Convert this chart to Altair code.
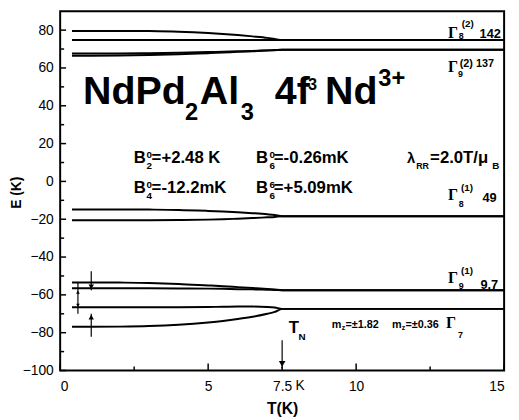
import altair as alt
import pandas as pd

# ---------------- data ----------------
T_pts = [0.4, 1, 2, 3, 4, 5, 5.5, 6, 6.5, 7, 7.25, 7.5, 15]

g8b_up = [79.6, 79.6, 79.6, 79.5, 79.2, 78.5, 78.0, 77.4, 76.7, 75.9, 75.3, 74.8, 74.8]
g8b_mid = [74.8, 74.8, 74.8, 74.8, 74.8, 74.8, 74.8, 74.8, 74.8, 74.8, 74.8, 74.8, 74.8]
g9b_a = [67.6, 67.6, 67.7, 67.8, 68.0, 68.4, 68.6, 68.8, 69.0, 69.3, 69.45, 69.6, 69.6]
g9b_b = [66.5, 66.5, 66.6, 66.8, 67.2, 67.8, 68.1, 68.5, 68.8, 69.2, 69.4, 69.6, 69.6]
g8a_up = [-14.8, -14.8, -14.8, -14.9, -15.1, -15.6, -15.9, -16.3, -16.8, -17.4, -17.8, -18.4, -18.4]
g8a_lo = [-20.5, -20.5, -20.5, -20.5, -20.4, -20.2, -20.0, -19.7, -19.4, -19.0, -18.8, -18.4, -18.4]
g9a_up = [-53.4, -53.4, -53.5, -53.7, -54.2, -55.0, -55.4, -55.9, -56.4, -56.9, -57.2, -57.5, -57.5]
g9a_lo = [-56.5, -56.5, -56.5, -56.5, -56.6, -56.7, -56.8, -57.0, -57.1, -57.3, -57.4, -57.5, -57.5]
g7_up = [-66.6, -66.6, -66.6, -66.5, -66.5, -66.4, -66.3, -66.2, -66.2, -66.4, -66.7, -67.4, -67.4]
g7_lo = [-76.9, -76.9, -76.8, -76.5, -75.8, -74.6, -73.8, -72.8, -71.6, -70.0, -69.0, -67.4, -67.4]

series = {
    "g8b_up": g8b_up, "g8b_mid": g8b_mid, "g9b_a": g9b_a, "g9b_b": g9b_b,
    "g8a_up": g8a_up, "g8a_lo": g8a_lo, "g9a_up": g9a_up, "g9a_lo": g9a_lo,
    "g7_up": g7_up, "g7_lo": g7_lo,
}

x_tick_labels = [0, 5, 7.5, 10, 15]
x_major = [0, 5, 10, 15]
x_minor = [2.5, 7.5, 12.5]
y_major = [-100, -80, -60, -40, -20, 0, 20, 40, 60, 80]
y_minor = [-90, -70, -50, -30, -10, 10, 30, 50, 70]

# arrows: vertical lines (T, E_start, E_end) and heads (T, E, shape)
arrow_T = [1.05, 1.05, 0.6, 7.5]
arrow_E1 = [-47.5, -70.0, -53.5, -84.0]
arrow_E2 = [-57.5, -82.2, -70.0, -99.0]
head_T = [1.05, 1.05, 0.6, 0.6, 7.5]
head_E = [-55.8, -71.8, -58.5, -65.5, -96.5]
head_shape = ["triangle-down", "triangle-up", "triangle-up", "triangle-down", "triangle-down"]
head_size = [30, 30, 14, 14, 45]

# annotations: (text, T, E, size)
sans_bold = [
    ("NdPd", 0.77, 41.2, 40), ("2", 4.22, 32.7, 24), ("Al", 4.72, 41.2, 40),
    ("3", 6.1, 32.7, 24), ("4f", 7.25, 41.2, 40), ("3", 8.38, 48.4, 16),
    ("Nd", 8.95, 41.2, 40), ("3+", 10.75, 50.4, 24),
    # crystal-field parameters
    ("B", 2.49, 10.0, 17), ("0", 2.92, 12.6, 10), ("2", 2.92, 6.6, 10), ("=+2.48 K", 3.09, 10.0, 17),
    ("B", 2.49, -6.15, 17), ("0", 2.92, -3.6, 10), ("4", 2.92, -9.5, 10), ("=-12.2mK", 3.09, -6.15, 17),
    ("B", 6.62, 10.0, 17), ("0", 7.07, 12.6, 10), ("6", 7.07, 6.6, 10), ("=-0.26mK", 7.22, 10.0, 17),
    ("B", 6.62, -6.15, 17), ("6", 7.07, -3.6, 10), ("6", 7.07, -9.5, 10), ("=+5.09mK", 7.22, -6.15, 17),
    ("λ", 11.72, 10.0, 15), ("RR", 12.03, 6.6, 9), ("=2.0T/μ", 12.5, 10.0, 17), ("B", 14.6, 6.6, 10),
    # level labels (numbers and superscripts)
    ("(2)", 13.57, 81.7, 10), ("142", 14.17, 75.9, 13), ("8", 13.47, 75.3, 9),
    ("(2) 137", 13.5, 60.6, 11), ("9", 13.44, 55.1, 9),
    ("(1)", 13.54, -5.3, 10), ("49", 14.27, -11.0, 13), ("8", 13.47, -13.6, 9),
    ("(1)", 13.54, -49.0, 10), ("9.7", 14.2, -56.8, 13), ("9", 13.47, -56.8, 9),
    ("7", 13.44, -82.8, 9),
    # magnetic moments and T_N
    ("m", 9.18, -77.6, 11), ("z", 9.51, -78.7, 7), ("=±1.82", 9.64, -77.6, 11),
    ("m", 11.21, -77.6, 11), ("z", 11.54, -78.7, 7), ("=±0.36", 11.67, -77.6, 11),
    ("T", 7.72, -80.2, 17), ("N", 8.05, -83.9, 10),
]
serif_bold = [
    ("Γ", 13.1, 75.9, 16), ("Γ", 13.1, 58.0, 16), ("Γ", 13.1, -9.95, 16),
    ("Γ", 13.1, -53.7, 16), ("Γ", 13.04, -77.6, 16),
]
sans_plain = [("K", 7.95, -110.4, 14)]
y_title = [("E (K)", -1.45, -6.0, 14)]

# ---------------- build tables ----------------
rows = []
for name, vals in series.items():
    for t, e in zip(T_pts, vals):
        rows.append({"T": t, "E": e, "level": name})
lines_df = pd.DataFrame(rows)

xs = alt.Scale(domain=[0, 15], nice=False, zero=False)
ys = alt.Scale(domain=[-100, 90], nice=False, zero=False)

H = 365

lines = alt.Chart(lines_df).mark_line(
    color="black", strokeWidth=2, interpolate="monotone"
).encode(
    x=alt.X("T:Q", scale=xs, axis=alt.Axis(
        values=x_tick_labels, labelExpr="datum.value == 7.5 ? '7.5' : datum.label",
        title="T(K)", titleFontSize=16, titleFont="Liberation Sans", titleFontWeight="bold",
        titleColor="black", titlePadding=8, labelFontSize=14, labelFont="Liberation Sans",
        labelColor="black", labelPadding=9, tickSize=0, domain=False, grid=False)),
    y=alt.Y("E:Q", scale=ys, axis=alt.Axis(
        values=y_major, title=None, labelFontSize=14,
        labelFont="Liberation Sans", labelColor="black", labelPadding=7, tickSize=0,
        domain=False, grid=False)),
    detail="level:N",
)

ytick_major = alt.Chart(pd.DataFrame({"E": y_major})).mark_rule(color="black", strokeWidth=1.5).encode(
    y=alt.Y("E:Q", scale=ys), x=alt.value(0), x2=alt.value(6))
ytick_minor = alt.Chart(pd.DataFrame({"E": y_minor})).mark_rule(color="black", strokeWidth=1.5).encode(
    y=alt.Y("E:Q", scale=ys), x=alt.value(0), x2=alt.value(4))
xtick_major = alt.Chart(pd.DataFrame({"T": x_major})).mark_rule(color="black", strokeWidth=1.5).encode(
    x=alt.X("T:Q", scale=xs), y=alt.value(H), y2=alt.value(H - 7))
xtick_minor = alt.Chart(pd.DataFrame({"T": x_minor})).mark_rule(color="black", strokeWidth=1.5).encode(
    x=alt.X("T:Q", scale=xs), y=alt.value(H), y2=alt.value(H - 4))

arrows = alt.Chart(pd.DataFrame({"T": arrow_T, "E1": arrow_E1, "E2": arrow_E2})).mark_rule(
    color="black", strokeWidth=1.2).encode(
    x=alt.X("T:Q", scale=xs), y=alt.Y("E1:Q", scale=ys), y2="E2:Q")
heads = alt.Chart(pd.DataFrame({"T": head_T, "E": head_E, "shape": head_shape, "sz": head_size})).mark_point(
    filled=True, color="black", opacity=1).encode(
    x=alt.X("T:Q", scale=xs), y=alt.Y("E:Q", scale=ys),
    shape=alt.Shape("shape:N", scale=None), size=alt.Size("sz:Q", scale=None))


def text_layer(items, font, weight, **kw):
    df = pd.DataFrame(items, columns=["text", "T", "E", "size"])
    opts = dict(align="left", baseline="alphabetic", font=font, fontWeight=weight, color="black")
    opts.update(kw)
    return alt.Chart(df).mark_text(**opts).encode(
        x=alt.X("T:Q", scale=xs), y=alt.Y("E:Q", scale=ys),
        text="text:N", size=alt.Size("size:Q", scale=None))


chart = alt.layer(
    lines, ytick_major, ytick_minor, xtick_major, xtick_minor, arrows, heads,
    text_layer(sans_bold, "Liberation Sans", "bold"),
    text_layer(serif_bold, "Liberation Serif", "bold"),
    text_layer(sans_plain, "Liberation Sans", "normal"),
    text_layer(y_title, "Liberation Sans", "bold", align="center", baseline="middle", angle=270),
).properties(
    width=451, height=H,
    autosize=alt.AutoSizeParams(type="none"),
    padding={"left": 53, "top": 0, "right": 7, "bottom": 47},
).configure_view(stroke="black", strokeWidth=2)

chart.save("out.html", embed_options={"renderer": "svg", "actions": False})
